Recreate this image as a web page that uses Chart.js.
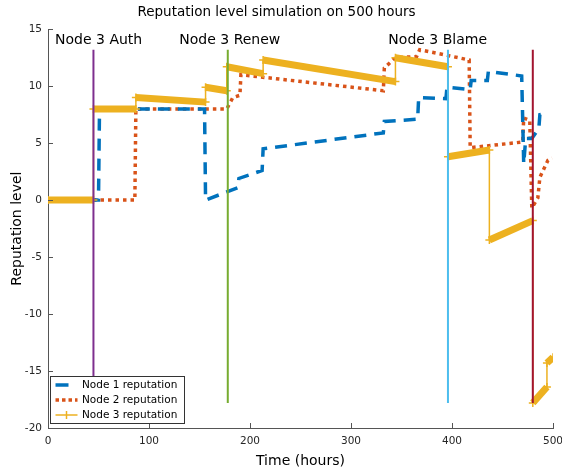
<!DOCTYPE html>
<html>
<head>
<meta charset="utf-8">
<script src="https://cdn.jsdelivr.net/npm/chart.js@4"></script>
<style>
  html, body { margin: 0; padding: 0; background: #fff; }
  #wrap { width: 562px; height: 476px; }
</style>
</head>
<body>
<div id="wrap"><canvas id="grafic"></canvas></div>
<script>
// dades llegides de la figura
const seriesNames = ['Node 1 reputation', 'Node 2 reputation', 'Node 3 reputation'];

const node1Hours = [0, 50, 51, 155, 156, 188, 189, 212, 213, 332, 333, 366, 367, 394, 395, 418, 419, 435, 436, 469, 471, 473, 479, 486, 487, 493];
const node1Rep   = [0, 0, 8, 8, 0, 1.1, 1.9, 2.6, 4.5, 5.9, 6.9, 7.1, 9.0, 8.9, 9.9, 9.7, 10.5, 10.5, 11.3, 10.9, 3.2, 5.4, 5.4, 6.3, 7.5, 7.6];

const node2Hours = [0, 86, 87, 177, 183, 190, 191, 332, 333, 344, 365, 368, 417, 418, 470, 471, 477, 479, 485, 487, 495, 499];
const node2Rep   = [0, 0, 8, 8, 9.0, 9.2, 11.0, 9.6, 11.6, 12.5, 12.6, 13.2, 12.3, 4.6, 5.1, 7.2, 7.0, -0.7, 0.2, 2.0, 3.5, 3.7];

const node3Hours = [0, 45, 45, 87, 87, 156, 156, 177, 177, 213, 213, 344, 344, 396, 396, 437, 437, 480, 480, 494, 494, 500];
const node3Rep   = [0, 0, 8, 8, 9.0, 8.6, 9.9, 9.6, 11.7, 11.1, 12.3, 10.4, 12.5, 11.7, 3.8, 4.4, -3.5, -1.8, -17.8, -16.4, -14.3, -13.8];

const eventHours = [45, 178, 396, 480];
const eventSpan = [-17.8, 13.2];
const eventLabels = ['Node 3 Auth', 'Node 3 Renew', 'Node 3 Blame'];
const labelHours = [7, 130, 337];
const labelLevel = 14;

const xTicks = [0, 100, 200, 300, 400, 500];
const yTicks = [-20, -15, -10, -5, 0, 5, 10, 15];

// estils
const colNode = ['#0072BD', '#D95319', '#EDB120'];
const colEvent = ['#7E2F8E', '#77AC30', '#4DBEEE', '#A2142F'];
const axisCol = '#555';
const txtCol = '#262626';

Chart.defaults.font.family = '"DejaVu Sans", sans-serif';

const toPoints = (xs, ys) => xs.map((x, i) => ({ x: x, y: ys[i] }));

const datasets = [];
eventHours.forEach((h, i) => {
    datasets.push({
        label: '',
        data: [{ x: h, y: eventSpan[0] }, { x: h, y: eventSpan[1] }],
        borderColor: colEvent[i],
        borderWidth: 2,
        pointRadius: 0,
        showLine: true,
        order: 0
    });
});
datasets.push({
    label: seriesNames[2],
    data: toPoints(node3Hours, node3Rep),
    borderColor: colNode[2],
    backgroundColor: colNode[2],
    showLine: true,
    pointStyle: 'cross',
    pointRadius: 4,
    pointBorderWidth: 1.5,
    pointBorderColor: colNode[2],
    segment: {
        borderWidth: c => c.p0.parsed.x === c.p1.parsed.x ? 1.5 : 7
    },
    order: 1
});
datasets.push({
    label: seriesNames[0],
    data: toPoints(node1Hours, node1Rep),
    borderColor: colNode[0],
    borderWidth: 3.5,
    borderDash: [12, 8],
    pointRadius: 0,
    showLine: true,
    order: 2
});
datasets.push({
    label: seriesNames[1],
    data: toPoints(node2Hours, node2Rep),
    borderColor: colNode[1],
    borderWidth: 3.5,
    borderDash: [3.5, 4],
    pointRadius: 0,
    showLine: true,
    order: 3
});

// ticks cap a dins, com a matlab
const innerTicks = {
    id: 'innerTicks',
    afterDraw(chart) {
        const { ctx, chartArea: a, scales: { x, y } } = chart;
        ctx.save();
        ctx.strokeStyle = axisCol;
        ctx.lineWidth = 1;
        ctx.beginPath();
        xTicks.forEach(v => {
            const px = Math.round(x.getPixelForValue(v)) + 0.5;
            ctx.moveTo(px, a.bottom);
            ctx.lineTo(px, a.bottom - 5);
        });
        yTicks.forEach(v => {
            const py = Math.round(y.getPixelForValue(v)) + 0.5;
            ctx.moveTo(a.left, py);
            ctx.lineTo(a.left + 5, py);
        });
        ctx.stroke();
        ctx.restore();
    }
};

const eventText = {
    id: 'eventText',
    afterDatasetsDraw(chart) {
        const { ctx, scales: { x, y } } = chart;
        ctx.save();
        ctx.font = '14px "DejaVu Sans", sans-serif';
        ctx.fillStyle = '#000';
        ctx.textAlign = 'left';
        ctx.textBaseline = 'middle';
        eventLabels.forEach((t, i) => {
            ctx.fillText(t, x.getPixelForValue(labelHours[i]), y.getPixelForValue(labelLevel));
        });
        ctx.restore();
    }
};

const boxLegend = {
    id: 'boxLegend',
    afterDraw(chart) {
        const { ctx, chartArea: a } = chart;
        const left = a.left + 2.5, w = 134, h = 47;
        const top = a.bottom - 5 - h + 0.5;
        ctx.save();
        ctx.fillStyle = '#fff';
        ctx.fillRect(left, top, w, h);
        ctx.strokeStyle = '#333';
        ctx.lineWidth = 1;
        ctx.strokeRect(left, top, w, h);
        ctx.font = '10.5px "DejaVu Sans", sans-serif';
        ctx.textBaseline = 'middle';
        ctx.textAlign = 'left';
        [0, 1, 2].forEach(i => {
            const yy = top + 8.5 + i * 15;
            ctx.strokeStyle = colNode[i];
            ctx.beginPath();
            if (i === 0) { ctx.lineWidth = 3.5; ctx.setLineDash([13, 20]); }
            if (i === 1) { ctx.lineWidth = 3.5; ctx.setLineDash([3.5, 3]); }
            if (i === 2) { ctx.lineWidth = 1.5; ctx.setLineDash([]); }
            ctx.moveTo(left + 5, yy);
            ctx.lineTo(left + 27, yy);
            ctx.stroke();
            if (i === 2) {
                ctx.beginPath();
                ctx.moveTo(left + 16, yy - 4);
                ctx.lineTo(left + 16, yy + 4);
                ctx.stroke();
            }
            ctx.setLineDash([]);
            ctx.fillStyle = '#000';
            ctx.fillText(seriesNames[i], left + 31.5, yy);
        });
        ctx.restore();
    }
};

new Chart(document.getElementById('grafic'), {
    type: 'scatter',
    data: { datasets: datasets },
    options: {
        responsive: true,
        maintainAspectRatio: false,
        animation: false,
        events: [],
        layout: { padding: { left: 0, right: 9, top: 0, bottom: 0 } },
        plugins: {
            legend: { display: false },
            tooltip: { enabled: false },
            title: {
                display: true,
                text: 'Reputation level simulation on 500 hours',
                color: '#000',
                font: { size: 13.5, weight: 'normal' },
                padding: { top: 4, bottom: 9 }
            }
        },
        scales: {
            x: {
                type: 'linear',
                min: 0,
                max: 500,
                afterBuildTicks: s => { s.ticks = xTicks.map(v => ({ value: v })); },
                afterFit: s => { s.height = 48; s.paddingLeft = 0; s.paddingRight = 0; },
                ticks: { color: txtCol, font: { size: 10.5 }, padding: 7, maxRotation: 0 },
                grid: { display: false, drawTicks: false },
                border: { display: true, color: axisCol, width: 1 },
                title: {
                    display: true,
                    text: 'Time (hours)',
                    color: '#000',
                    font: { size: 14 },
                    padding: { top: 0, bottom: 6 }
                }
            },
            y: {
                type: 'linear',
                min: -20,
                max: 15,
                afterBuildTicks: s => { s.ticks = yTicks.map(v => ({ value: v })); },
                afterFit: s => { s.width = 48; },
                ticks: { color: txtCol, font: { size: 10.5 }, padding: 6 },
                grid: { display: false, drawTicks: false },
                border: { display: true, color: axisCol, width: 1 },
                title: {
                    display: true,
                    text: 'Reputation level',
                    color: '#000',
                    font: { size: 14 },
                    padding: { top: 9, bottom: 0 }
                }
            }
        }
    },
    plugins: [innerTicks, eventText, boxLegend]
});
</script>
</body>
</html>
